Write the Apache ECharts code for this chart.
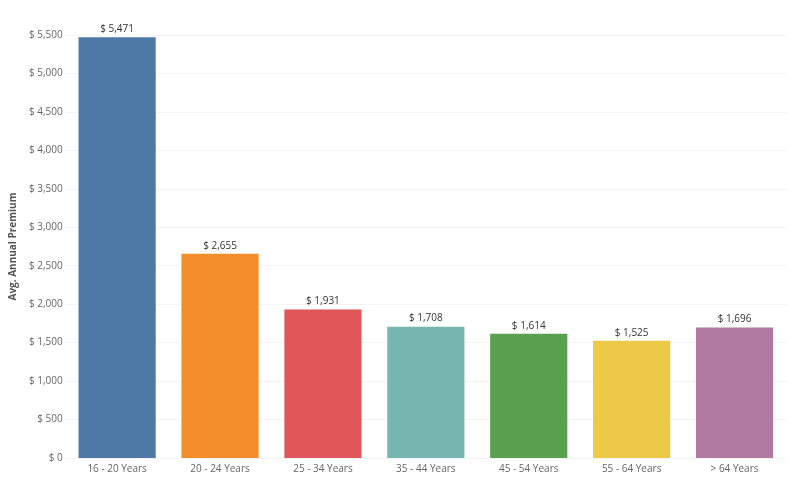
<!DOCTYPE html>
<html><head><meta charset="utf-8">
<script src="https://cdn.jsdelivr.net/npm/echarts@6/dist/echarts.min.js"></script>
<style>html,body{margin:0;background:#fff}#c{width:789px;height:481px}</style>
</head><body><div id="c"></div>
<script>
var ageGroups = ['16 - 20 Years','20 - 24 Years','25 - 34 Years','35 - 44 Years','45 - 54 Years','55 - 64 Years','> 64 Years'];
var premiums = [5471, 2655, 1931, 1708, 1614, 1525, 1696];
var barColors = ['#4e79a7','#f28e2b','#e15759','#76b7b2','#59a14f','#edc948','#b07aa1'];

function money(v){ return '$ ' + v.toLocaleString('en-US'); }

var myChart = echarts.init(document.getElementById('c'));
var option = {
    animation: false,
    grid: {left: 61, right: 3, top: 35, bottom: 23},
    xAxis: {
        type: 'category',
        data: ageGroups,
        axisLine: {show: false},
        axisTick: {show: false},
        axisLabel: {color: '#666', fontSize: 10, fontFamily: 'Open Sans', margin: 6}
    },
    yAxis: {
        type: 'value', min: 0, max: 5500, interval: 500,
        name: 'Avg. Annual Premium', nameLocation: 'middle', nameGap: 45,
        nameTextStyle: {color: '#555', fontSize: 10, fontWeight: 'bold', fontFamily: 'Open Sans'},
        axisLine: {show: false},
        axisTick: {show: false},
        axisLabel: {color: '#666', fontSize: 10, fontFamily: 'Open Sans', formatter: money, margin: 3},
        splitLine: {lineStyle: {color: '#f3f3f3'}}
    },
    series: [{
        type: 'bar',
        barCategoryGap: '25%',
        data: premiums.map(function(v, i){ return {value: v, itemStyle: {color: barColors[i]}}; }),
        label: {show: true, position: 'top', distance: 3, color: '#333', fontSize: 10, fontFamily: 'Open Sans',
                formatter: function(p){ return money(p.value); }}
    }]
};
myChart.setOption(option);
</script></body></html>
